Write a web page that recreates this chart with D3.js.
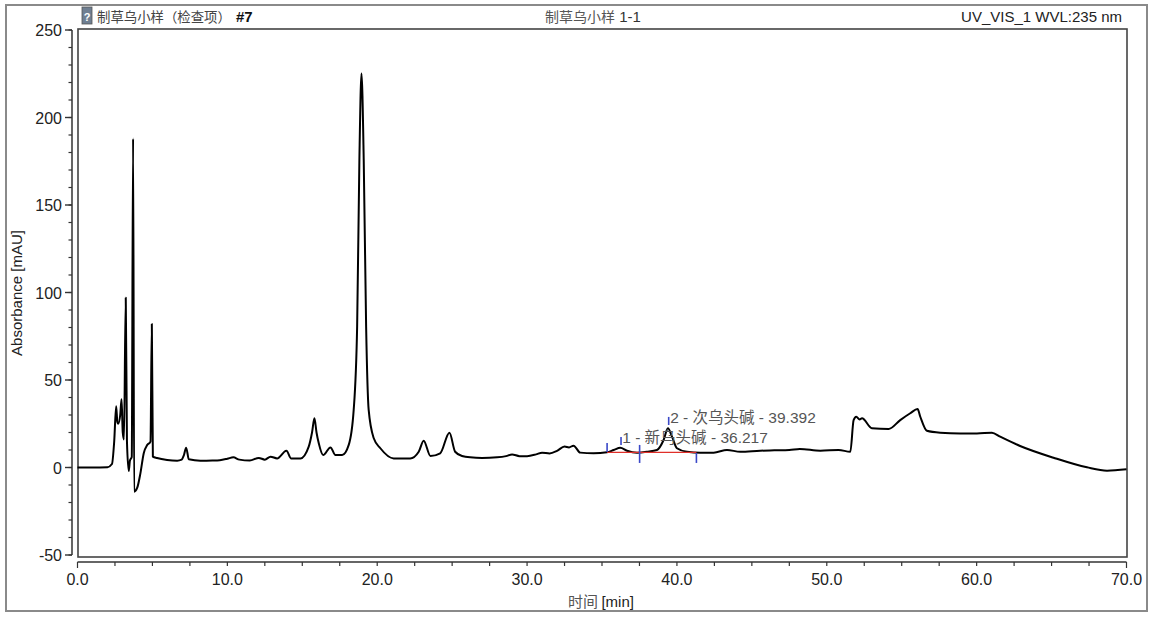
<!DOCTYPE html>
<html>
<head>
<meta charset="utf-8">
<script src="https://cdn.jsdelivr.net/npm/d3@7"></script>
<style>
  body { margin:0; background:#fff; }
  svg text { font-family: "Liberation Sans", Arial, "Noto Sans CJK SC", sans-serif; }
</style>
</head>
<body>
<svg id="chrom" width="1155" height="618"></svg>
<script>
// retention time (min) and absorbance (mAU)
const times = [0,1.0,2.0,2.3,2.45,2.58,2.66,2.72,2.85,2.94,3.02,3.1,3.22,3.3,3.42,3.5,3.62,3.71,3.78,3.98,
  4.2,4.42,4.65,4.87,4.96,5.03,5.31,5.98,6.65,6.95,7.1,7.25,7.43,8.2,9.0,9.5,10.0,10.4,10.8,11.5,
  12.1,12.5,12.88,13.32,13.94,14.26,14.88,15.43,15.65,15.81,15.95,16.1,16.39,16.88,17.21,17.66,18.1,18.43,18.66,18.81,
  18.95,19.1,19.26,19.43,19.77,20.21,21.1,22.2,22.77,23.1,23.55,24.2,24.82,25.2,25.66,26.2,27,28,28.6,29,
  29.5,30,30.6,31,31.5,32,32.5,32.8,33.1,33.55,34.44,35.33,35.78,36.22,36.67,37.34,38.0,38.67,39.11,39.4,
  39.67,40.0,40.67,41.56,42.45,43.34,44.23,45.56,46.5,47.5,48.2,49.57,50.79,51.57,51.79,51.97,52.19,52.35,53.01,54.12,
  54.9,55.57,56.06,56.24,56.68,57.57,58.9,60.02,61.02,61.57,62.9,65.13,67.36,68.7,70];
const absorb = [0,0,0.2,2,15,35,26,25,30,39,20,16,97,15,-2,4,6,188,-13.8,-11.7,
  -3.2,8.2,12.8,14.8,82,6.2,5.4,4.3,3.9,4.5,7,11.3,4.7,3.9,4,4.2,5,5.8,4.5,4,
  5.5,4.5,6.2,5.2,9.6,5.2,5.2,11.9,20,28.1,20,13.8,7.1,11.5,7.1,7.1,12.9,32.9,80.5,175.7,
  225.2,175.7,80.5,32.9,16.7,11,5.2,5.2,9,15.3,6.6,8.1,19.9,9,6.6,5.8,5.5,5.8,6.5,7.5,
  6.5,6.5,7.5,8.5,8,9.5,12,11.5,12.5,8.5,8.1,8.7,10,11.3,9.6,8.5,9,10,15.7,22.4,
  17.6,11,9,8.5,8.5,10,9,9.6,9.8,10,10.6,9.6,10,9,27.1,29,27.5,28.1,22.4,22,
  27.1,31,33.4,29,21,19.9,19.5,19.5,19.9,17.6,12.3,5.6,0.1,-1.8,-1];

// integration marks
const markTimes = [35.34, 36.27, 37.51, 39.45, 41.3];
const markTop = [14, 17.4, 12.9, 28.9, 8.3];
const markBottom = [8.8, 12.9, 2.6, 24.3, 2.6];
const baseTimes = [35.34, 41.3];
const baseVals = [8.7, 8.6];

// peak labels
const peakLabels = ['1 - 新乌头碱 - 36.217', '2 - 次乌头碱 - 39.392'];
const peakLabelT = [36.35, 39.55];
const peakLabelV = [17, 28.5];

const xTicks = d3.range(0, 70.1, 10);
const xMinor = d3.range(0, 70.1, 2.5);
const yTicks = d3.range(-50, 251, 50);
const yMinor = d3.range(-50, 251, 10);

const svg = d3.select('#chrom');
const x = d3.scaleLinear().domain([0, 70]).range([77.5, 1126.5]);
const y = d3.scaleLinear().domain([-50, 250]).range([555, 30]);

// outer box
svg.append('rect').attr('x', 6).attr('y', 5).attr('width', 1141).attr('height', 606)
  .attr('fill', 'none').attr('stroke', '#8a8a8a').attr('stroke-width', 2);

// plot frame
svg.append('rect').attr('x', 78).attr('y', 29).attr('width', 1049).attr('height', 528)
  .attr('fill', 'none').attr('stroke', '#444').attr('stroke-width', 1.6);

// header
const icon = svg.append('g').attr('transform', 'translate(82,7)');
icon.append('rect').attr('width', 10).attr('height', 17).attr('fill', '#6f7f92').attr('stroke', '#555').attr('stroke-width', 0.8);
icon.append('text').attr('x', 5).attr('y', 14).attr('text-anchor', 'middle').style('font-size', '11px')
  .style('font-weight', '700').attr('fill', '#fff').text('?');

svg.append('text').attr('x', 97).attr('y', 22).style('font-size', '13.4px').attr('fill', '#444')
  .style('font-family', '"Noto Sans CJK SC", sans-serif').text('制草乌小样（检查项）');
svg.append('text').attr('x', 236).attr('y', 22).style('font-size', '15px').style('font-weight', '700')
  .attr('fill', '#111').text('#7');
const mid = svg.append('text').attr('x', 545).attr('y', 22).style('font-size', '15px').attr('fill', '#333');
mid.append('tspan').style('font-family', '"Noto Sans CJK SC", sans-serif').style('font-size', '14px').attr('fill', '#555').text('制草乌小样');
mid.append('tspan').text(' 1-1');
svg.append('text').attr('x', 1122).attr('y', 22).attr('text-anchor', 'end').style('font-size', '15px')
  .attr('fill', '#222').text('UV_VIS_1 WVL:235 nm');

// y axis
const yAxis = svg.append('g');
yAxis.append('line').attr('x1', 72).attr('x2', 72).attr('y1', y(250)).attr('y2', y(-50)).attr('stroke', '#333').attr('stroke-width', 1.5);
yAxis.selectAll('.ymin').data(yMinor).join('line')
  .attr('x1', 68.5).attr('x2', 72).attr('y1', d => y(d)).attr('y2', d => y(d)).attr('stroke', '#333').attr('stroke-width', 1.2);
yAxis.selectAll('.ymaj').data(yTicks).join('line')
  .attr('x1', 65).attr('x2', 72).attr('y1', d => y(d)).attr('y2', d => y(d)).attr('stroke', '#333').attr('stroke-width', 1.4);
yAxis.selectAll('text').data(yTicks).join('text')
  .attr('x', 62).attr('y', d => y(d) + 6).attr('text-anchor', 'end').style('font-size', '16px').attr('fill', '#222')
  .text(d => d);
svg.append('text').attr('transform', 'translate(22,293) rotate(-90)').attr('text-anchor', 'middle')
  .style('font-size', '15px').attr('fill', '#222').text('Absorbance [mAU]');

// x axis
const xAxis = svg.append('g');
xAxis.append('line').attr('x1', x(0)).attr('x2', x(70)).attr('y1', 562).attr('y2', 562).attr('stroke', '#333').attr('stroke-width', 1.5);
xAxis.selectAll('.xmin').data(xMinor).join('line')
  .attr('x1', d => x(d)).attr('x2', d => x(d)).attr('y1', 562).attr('y2', d => (d === 0 || d === 70) ? 568 : 566)
  .attr('stroke', '#333').attr('stroke-width', 1.2);
xAxis.selectAll('text').data(xTicks).join('text')
  .attr('x', d => x(d)).attr('y', 585).attr('text-anchor', 'middle')
  .style('font-family', '"Liberation Sans Narrow", "Liberation Sans", Arial, sans-serif')
  .style('font-size', '16px').attr('fill', '#222').text(d => d3.format('.1f')(d));
const xl = svg.append('text').attr('x', 601).attr('y', 607).attr('text-anchor', 'middle').style('font-size', '15px').attr('fill', '#222');
xl.append('tspan').style('font-family', '"Noto Sans CJK SC", sans-serif').attr('fill', '#555').text('时间 ');
xl.append('tspan').style('font-family', '"Liberation Sans Narrow", "Liberation Sans", sans-serif').text('[min]');

// trace
const pts = times.map((t, i) => [t, absorb[i]]);
const line = d3.line().x(d => x(d[0])).y(d => y(d[1])).curve(d3.curveMonotoneX);
svg.append('path').datum(pts).attr('fill', 'none').attr('stroke', '#000').attr('stroke-width', 2)
  .attr('stroke-linejoin', 'round').attr('d', line);

// integration baseline and marks
svg.append('line').attr('x1', x(baseTimes[0])).attr('x2', x(baseTimes[1]))
  .attr('y1', y(baseVals[0])).attr('y2', y(baseVals[1])).attr('stroke', '#e0302a').attr('stroke-width', 1.3);
svg.selectAll('.mark').data(markTimes).join('line').attr('class', 'mark')
  .attr('x1', d => x(d)).attr('x2', d => x(d))
  .attr('y1', (d, i) => y(markTop[i])).attr('y2', (d, i) => y(markBottom[i]))
  .attr('stroke', '#3a48c8').attr('stroke-width', 1.6);

// peak labels
svg.selectAll('.plab').data(peakLabels).join('text').attr('class', 'plab')
  .attr('x', (d, i) => x(peakLabelT[i])).attr('y', (d, i) => y(peakLabelV[i]) + 5)
  .style('font-size', '15.5px').attr('fill', '#555')
  .style('font-family', '"Liberation Sans", "Noto Sans CJK SC", sans-serif')
  .text(d => d);
</script>
</body>
</html>
